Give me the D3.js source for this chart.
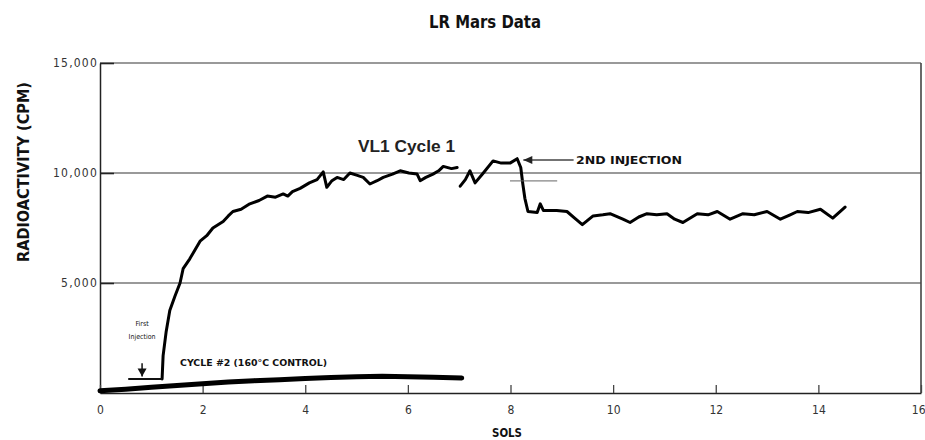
<!DOCTYPE html>
<style>
  body { margin: 0; background: #fff; }
  .axis .domain { stroke: #222; stroke-width: 1.5; }
  .axis text { font-family: "DejaVu Sans Condensed", "Liberation Sans", sans-serif; fill: #333; }
  .lbl { font-family: "Liberation Sans Narrow", "DejaVu Sans Condensed", "Liberation Sans", sans-serif; fill: #111; }
</style>
<svg width="925" height="440"></svg>
<script src="https://d3js.org/d3.v7.min.js"></script>
<script>
  // Viking Lander 1, labeled release experiment, cycle 1 and the heat-sterilised control

  // cycle 1 (null splits the trace where the record breaks near sol 7)
  var cycle1Sol = [1.21, 1.23, 1.29, 1.36, 1.46, 1.56, 1.62, 1.75, 1.95, 2.08, 2.20, 2.30, 2.40, 2.50, 2.59, 2.75, 2.92, 3.10,
    3.26, 3.42, 3.57, 3.66, 3.75, 3.90, 4.08, 4.23, 4.35, 4.42, 4.52, 4.62, 4.75, 4.87, 5.00, 5.13, 5.26, 5.40, 5.52, 5.70, 5.85, 6.02,
    6.18, 6.24, 6.35, 6.49, 6.60, 6.69, 6.85, 6.96, null, 7.02, 7.12, 7.21, 7.31, 7.47, 7.66, 7.82, 7.99, 8.13, 8.20, 8.24, 8.28,
    8.34, 8.52, 8.58, 8.64, 8.90, 9.10, 9.25, 9.40, 9.61, 9.80, 9.94, 10.19, 10.33, 10.50, 10.66, 10.85, 11.05, 11.20, 11.36, 11.64, 11.85, 12.03, 12.28,
    12.53, 12.75, 13.00, 13.26, 13.45, 13.59, 13.80, 14.04, 14.28, 14.52];
  var cycle1Cpm = [640, 1700, 2800, 3750, 4400, 5000, 5650, 6100, 6900, 7150, 7500, 7650, 7800, 8050, 8250, 8350, 8600, 8750,
    8950, 8900, 9050, 8950, 9150, 9300, 9550, 9700, 10050, 9350, 9650, 9800, 9700, 10000, 9900, 9800, 9500, 9650, 9800, 9950, 10100, 10000,
    9950, 9650, 9800, 9950, 10100, 10300, 10200, 10250, null, 9400, 9700, 10100, 9550, 10000, 10550, 10450, 10450, 10650, 10250, 9500, 8850,
    8250, 8200, 8600, 8300, 8300, 8250, 7950, 7650, 8050, 8100, 8150, 7900, 7750, 8000, 8150, 8100, 8150, 7900, 7750, 8150, 8100, 8250, 7900,
    8150, 8100, 8250, 7900, 8100, 8250, 8200, 8350, 7950, 8450];

  // cycle #2, 160 C control
  var controlSol = [0, 0.5, 1.0, 1.5, 2.0, 2.5, 3.0, 3.5, 4.0, 4.5, 5.0, 5.5, 6.0, 6.5, 7.05];
  var controlCpm = [100, 170, 260, 340, 420, 500, 560, 600, 660, 700, 740, 760, 740, 720, 680];

  var yTicks = [5000, 10000, 15000];
  var xTicks = [0, 2, 4, 6, 8, 10, 12, 14, 16];

  var svg = d3.select("svg");

  var x = d3.scaleLinear().domain([0, 16]).range([100, 921]);
  var y = d3.scaleLinear().domain([0, 15000]).range([393, 63]);

  // grid lines
  svg.append("g")
    .selectAll("line")
    .data(yTicks)
    .enter()
    .append("line")
    .attr("x1", x(0))
    .attr("x2", x(16))
    .attr("y1", function(d) { return y(d); })
    .attr("y2", function(d) { return y(d); })
    .attr("stroke", "#777")
    .attr("stroke-width", 1.6);

  // right border
  svg.append("line")
    .attr("x1", x(16)).attr("x2", x(16))
    .attr("y1", y(15000)).attr("y2", y(0))
    .attr("stroke", "#444")
    .attr("stroke-width", 1.6);

  // axes
  svg.append("g")
    .attr("class", "axis")
    .attr("transform", "translate(" + x(0) + ",0)")
    .call(d3.axisLeft(y).tickValues(yTicks).tickFormat(d3.format(",")).tickSizeInner(-14).tickSizeOuter(0).tickPadding(2))
    .call(function(g) {
      g.selectAll(".tick line").attr("stroke", "#222").attr("stroke-width", 1.6);
      g.selectAll("text").attr("font-size", 12).attr("letter-spacing", 1.2);
    });

  svg.append("g")
    .attr("class", "axis")
    .attr("transform", "translate(0," + y(0) + ")")
    .call(d3.axisBottom(x).tickValues(xTicks).tickSizeInner(-8).tickSizeOuter(0).tickPadding(12))
    .call(function(g) {
      g.selectAll(".tick line").attr("stroke", "#444").attr("stroke-width", 1.3);
      g.selectAll("text").attr("font-size", 12);
      g.selectAll("text").filter(function(d) { return d === 16; }).attr("text-anchor", "end").attr("dx", 4);
    });

  // data lines
  var line = d3.line()
    .defined(function(d) { return d[1] !== null; })
    .x(function(d) { return x(d[0]); })
    .y(function(d) { return y(d[1]); });

  svg.append("path")
    .datum(d3.zip(controlSol, controlCpm))
    .attr("fill", "none")
    .attr("stroke", "#000")
    .attr("stroke-width", 5)
    .attr("stroke-linejoin", "round")
    .attr("stroke-linecap", "round")
    .attr("d", line);

  svg.append("path")
    .datum(d3.zip(cycle1Sol, cycle1Cpm))
    .attr("fill", "none")
    .attr("stroke", "#000")
    .attr("stroke-width", 3)
    .attr("stroke-linejoin", "round")
    .attr("stroke-linecap", "round")
    .attr("d", line);

  // first injection marker
  svg.append("line")
    .attr("x1", x(0.55)).attr("x2", x(1.21))
    .attr("y1", y(640)).attr("y2", y(640))
    .attr("stroke", "#111").attr("stroke-width", 2);
  svg.append("line")
    .attr("x1", x(0.82)).attr("x2", x(0.82))
    .attr("y1", y(1350)).attr("y2", y(750))
    .attr("stroke", "#111").attr("stroke-width", 1.5);
  svg.append("path")
    .attr("d", "M" + (x(0.82) - 4.5) + "," + (y(750) - 8) + "L" + x(0.82) + "," + y(750) + "L" + (x(0.82) + 4.5) + "," + (y(750) - 8) + "Z")
    .attr("fill", "#111");
  svg.append("text").attr("class", "lbl")
    .attr("x", x(0.82)).attr("y", 326)
    .attr("text-anchor", "middle").attr("font-size", 7)
    .text("First");
  svg.append("text").attr("class", "lbl")
    .attr("x", x(0.82)).attr("y", 339)
    .attr("text-anchor", "middle").attr("font-size", 7)
    .text("Injection");

  // second injection marker
  svg.append("line")
    .attr("x1", x(8.25)).attr("x2", x(9.23))
    .attr("y1", y(10590)).attr("y2", y(10590))
    .attr("stroke", "#444").attr("stroke-width", 1.5);
  svg.append("path")
    .attr("d", "M" + (x(8.25) + 9) + "," + (y(10590) - 4) + "L" + x(8.25) + "," + y(10590) + "L" + (x(8.25) + 9) + "," + (y(10590) + 4) + "Z")
    .attr("fill", "#222");
  svg.append("line")
    .attr("x1", x(7.99)).attr("x2", x(8.91))
    .attr("y1", y(9640)).attr("y2", y(9640))
    .attr("stroke", "#666").attr("stroke-width", 1);

  // text labels
  svg.append("text").attr("class", "lbl")
    .attr("x", 576).attr("y", 164)
    .attr("font-size", 10).attr("font-weight", "bold")
    .attr("textLength", 106).attr("lengthAdjust", "spacingAndGlyphs")
    .text("2ND INJECTION");

  svg.append("text").attr("class", "lbl")
    .attr("x", 358).attr("y", 152)
    .attr("font-size", 16).attr("font-weight", "bold")
    .attr("textLength", 97).attr("lengthAdjust", "spacingAndGlyphs")
    .style("font-family", "'Liberation Sans', sans-serif")
    .style("fill", "#222")
    .text("VL1 Cycle 1");

  svg.append("text").attr("class", "lbl")
    .attr("x", 180).attr("y", 366)
    .attr("font-size", 8.5).attr("font-weight", "bold")
    .attr("textLength", 147).attr("lengthAdjust", "spacingAndGlyphs")
    .text("CYCLE #2 (160\u00B0C CONTROL)");

  svg.append("text").attr("class", "lbl")
    .attr("x", 485).attr("y", 28)
    .attr("text-anchor", "middle").attr("font-size", 17).attr("font-weight", "bold")
    .attr("textLength", 112).attr("lengthAdjust", "spacingAndGlyphs")
    .text("LR Mars Data");

  svg.append("text").attr("class", "lbl")
    .attr("x", 507).attr("y", 437)
    .attr("text-anchor", "middle").attr("font-size", 13).attr("font-weight", "bold")
    .attr("textLength", 30).attr("lengthAdjust", "spacingAndGlyphs")
    .text("SOLS");

  svg.append("text").attr("class", "lbl")
    .attr("transform", "translate(29,172) rotate(-90)")
    .attr("text-anchor", "middle").attr("font-size", 16).attr("font-weight", "bold")
    .attr("textLength", 180).attr("lengthAdjust", "spacingAndGlyphs")
    .text("RADIOACTIVITY (CPM)");
</script>
